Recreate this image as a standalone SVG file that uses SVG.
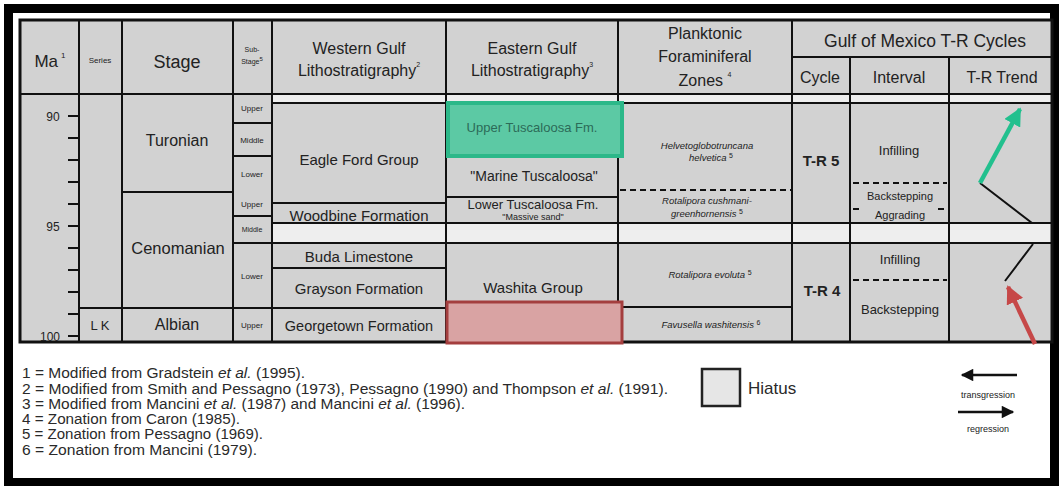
<svg xmlns="http://www.w3.org/2000/svg" width="1060" height="486" viewBox="0 0 1060 486">
<style>
.t{font-family:"Liberation Sans",Arial,sans-serif;fill:#222;text-anchor:middle}
.h{font-size:16px}
.b{font-size:15px}
.s{font-size:8px}
.i{font-size:9.5px;font-style:italic}
.g{stroke:#111;stroke-width:2;fill:none}
.d{stroke:#111;stroke-width:2;stroke-dasharray:6 4;fill:none}
.cell{fill:#d2d2d2}
.hia{fill:#eeeeee}
.lg{font-family:"Liberation Sans",Arial,sans-serif;fill:#2a2a2a;font-size:14px}
</style>
<defs>
<marker id="ag" viewBox="0 0 10 10" refX="9" refY="5" markerWidth="4" markerHeight="4" orient="auto" markerUnits="strokeWidth"><path d="M0,0 L10,5 L0,10 z" fill="#22c08e"/></marker>
<marker id="ar" viewBox="0 0 10 10" refX="9" refY="5" markerWidth="4" markerHeight="4" orient="auto" markerUnits="strokeWidth"><path d="M0,0 L10,5 L0,10 z" fill="#c64848"/></marker>
<marker id="ak" viewBox="0 0 10 10" refX="9" refY="5" markerWidth="9" markerHeight="5" orient="auto" markerUnits="strokeWidth"><path d="M0,0 L10,5 L0,10 z" fill="#111"/></marker>
</defs>
<rect x="0" y="0" width="1060" height="486" fill="#fff"/>
<rect x="8.5" y="8.5" width="1046" height="474" fill="none" stroke="#000" stroke-width="9"/>
<g id="table">
<rect x="20" y="20" width="1032" height="322" class="cell"/>
<rect x="272" y="94" width="780" height="9" class="hia"/>
<rect x="272" y="223" width="780" height="20" class="hia"/>
</g>
<g id="grid">
<path class="g" d="M20,94 H1052 M272,103 H1052 M792,57 H1052 M79,20 V342 M122,20 V342 M233,20 V342 M272,20 V342 M446,20 V342 M618,20 V342 M792,20 V342 M850,57 V342 M949,57 V342"/>
<path class="g" d="M122,192 H233 M79,308 H272 M233,123 H272 M233,156 H272 M233,216 H272 M233,243 H272"/>
<path class="g" d="M272,203 H446 M272,223 H1052 M272,243 H1052 M272,268 H446 M272,308 H446"/>
<path class="g" d="M446,157 H618 M446,197 H618 M618,307 H792"/>
<path class="g" d="M68,116 H79 M68,138 H79 M68,160 H79 M68,182 H79 M68,204 H79 M68,226 H79 M68,248 H79 M68,270 H79 M68,292 H79 M68,314 H79 M68,336 H79"/>
<path class="d" d="M620,190 H792 M853,183 H947 M853,280 H947 M853,209 H862 M938,209 H947"/>
<rect x="20" y="20" width="1032" height="322" fill="none" stroke="#111" stroke-width="3"/>
</g>
<g id="header">
<text class="t" x="50" y="67" style="font-size:17px">Ma<tspan font-size="8" dx="3" dy="-9">1</tspan></text>
<text class="t s" x="100" y="63">Series</text>
<text class="t" x="177" y="68" style="font-size:18px">Stage</text>
<text class="t" x="252" y="52" style="font-size:7px">Sub-</text><text class="t" x="252" y="64" style="font-size:7px">Stage<tspan font-size="6" dy="-3">5</tspan></text>
<text class="t h" x="359" y="54">Western Gulf</text><text class="t h" x="359" y="76">Lithostratigraphy<tspan font-size="7" dy="-9">2</tspan></text>
<text class="t h" x="532" y="54">Eastern Gulf</text><text class="t h" x="532" y="76">Lithostratigraphy<tspan font-size="7" dy="-9">3</tspan></text>
<text class="t h" x="705" y="39">Planktonic</text><text class="t h" x="705" y="62">Foraminiferal</text><text class="t h" x="705" y="86">Zones <tspan font-size="7" dy="-9">4</tspan></text>
<text class="t" x="925" y="47" style="font-size:17.5px">Gulf of Mexico T-R Cycles</text>
<text class="t h" x="820" y="83">Cycle</text>
<text class="t h" x="899" y="83">Interval</text>
<text class="t h" x="1002" y="83">T-R Trend</text>
</g>
<g id="ma">
<text class="t" x="53" y="121" style="font-size:12px">90</text>
<text class="t" x="53" y="231" style="font-size:12px">95</text>
<text class="t" x="50" y="341" style="font-size:12px">100</text>
</g>
<g id="stage">
<text class="t" x="177" y="146" style="font-size:16px">Turonian</text>
<text class="t" x="178" y="254" style="font-size:16.5px">Cenomanian</text>
<text class="t" x="177" y="330" style="font-size:16px">Albian</text>
<text class="t" x="100" y="330" style="font-size:13px">L K</text>
</g>
<g id="substage">
<text class="t s" x="252" y="111">Upper</text>
<text class="t s" x="252" y="143">Middle</text>
<text class="t s" x="252" y="177">Lower</text>
<text class="t s" x="252" y="207">Upper</text>
<text class="t" x="252" y="232" style="font-size:7px">Middle</text>
<text class="t s" x="252" y="279">Lower</text>
<text class="t s" x="252" y="328">Upper</text>
</g>
<g id="western">
<text class="t b" x="359" y="165">Eagle Ford Group</text>
<text class="t b" x="359" y="221">Woodbine Formation</text>
<text class="t b" x="359" y="262">Buda Limestone</text>
<text class="t b" x="359" y="294">Grayson Formation</text>
<text class="t b" x="359" y="331" style="font-size:14.5px">Georgetown Formation</text>
</g>
<g id="eastern">
<rect x="448" y="103" width="174" height="53" fill="#5cc9a4" stroke="#2cb889" stroke-width="4"/>
<text class="t" x="532" y="132" style="font-size:13px;fill:#2c6b58">Upper Tuscaloosa Fm.</text>
<text class="t" x="534" y="181" style="font-size:14px">"Marine Tuscaloosa"</text>
<text class="t" x="533" y="209" style="font-size:13px">Lower Tuscaloosa Fm.</text>
<text class="t" x="533" y="220" style="font-size:9px">"Massive sand"</text>
<text class="t b" x="533" y="293">Washita Group</text>
<rect x="447" y="302" width="175" height="41" fill="#d9a3a3" stroke="#a43e3e" stroke-width="3"/>
</g>
<g id="plank">
<text class="t i" x="707" y="149">Helvetoglobotruncana</text>
<text class="t i" x="711" y="161">helvetica <tspan font-style="normal" font-size="7" dy="-3">5</tspan></text>
<text class="t i" x="707" y="204">Rotalipora cushmani-</text>
<text class="t i" x="707" y="217">greenhornensis <tspan font-style="normal" font-size="7" dy="-3">5</tspan></text>
<text class="t i" x="710" y="278">Rotalipora evoluta <tspan font-style="normal" font-size="7" dy="-3">5</tspan></text>
<text class="t i" x="711" y="328">Favusella washitensis <tspan font-style="normal" font-size="7" dy="-3">6</tspan></text>
</g>
<g id="cycles">
<text class="t" x="821" y="166" style="font-size:15px;font-weight:bold">T-R 5</text>
<text class="t" x="822" y="296" style="font-size:15px;font-weight:bold">T-R 4</text>
<text class="t" x="899" y="155" style="font-size:13px">Infilling</text>
<text class="t" x="900" y="200" style="font-size:11px">Backstepping</text>
<text class="t" x="900" y="219" style="font-size:11px">Aggrading</text>
<text class="t" x="900" y="264" style="font-size:13px">Infilling</text>
<text class="t" x="900" y="314" style="font-size:13px">Backstepping</text>
</g>
<g id="connectors">
<path class="g" d="M980,183 L1032,223 M1033,244 L1005,281"/>
<path d="M980,183 L1020,109" stroke="#22c08e" stroke-width="4.5" fill="none" marker-end="url(#ag)"/>
<path d="M1035,344 L1008,287" stroke="#c64848" stroke-width="4.5" fill="none" marker-end="url(#ar)"/>
</g>
<g id="legend">
<text class="lg" x="22" y="378" textLength="283" lengthAdjust="spacingAndGlyphs">1 = Modified from Gradstein <tspan font-style="italic">et al.</tspan> (1995).</text>
<text class="lg" x="22" y="394" textLength="646" lengthAdjust="spacingAndGlyphs">2 = Modified from Smith and Pessagno (1973), Pessagno (1990) and Thompson <tspan font-style="italic">et al.</tspan> (1991).</text>
<text class="lg" x="22" y="409" textLength="443" lengthAdjust="spacingAndGlyphs">3 = Modified from Mancini <tspan font-style="italic">et al.</tspan> (1987) and Mancini <tspan font-style="italic">et al.</tspan> (1996).</text>
<text class="lg" x="22" y="424" textLength="218" lengthAdjust="spacingAndGlyphs">4 = Zonation from Caron (1985).</text>
<text class="lg" x="22" y="439" textLength="241" lengthAdjust="spacingAndGlyphs">5 = Zonation from Pessagno (1969).</text>
<text class="lg" x="22" y="455" textLength="235" lengthAdjust="spacingAndGlyphs">6 = Zonation from Mancini (1979).</text>
<rect x="702" y="369" width="38" height="37" fill="#e6e6e6" stroke="#222" stroke-width="2.5"/>
<text class="lg" x="748" y="394" style="font-size:17px">Hiatus</text>
<path d="M1017,375 H962" stroke="#111" stroke-width="2.5" marker-end="url(#ak)"/>
<text class="t" x="988" y="398" style="font-size:9px">transgression</text>
<path d="M958,412 H1013" stroke="#111" stroke-width="2.5" marker-end="url(#ak)"/>
<text class="t" x="988" y="432" style="font-size:9px">regression</text>
</g>
</svg>
